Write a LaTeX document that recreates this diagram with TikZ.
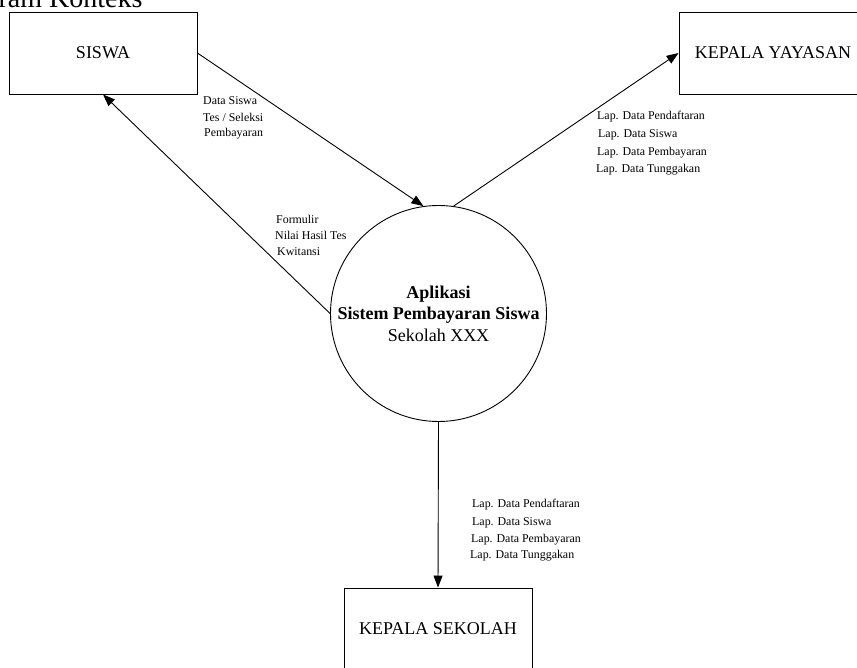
\documentclass[tikz,border=0pt]{standalone}
\usepackage{fontspec}
\setmainfont{Liberation Serif}
\usetikzlibrary{arrows.meta}
\tikzset{
  entity/.style={draw, line width=0.9pt, rectangle, minimum width=188pt, minimum height=82pt, inner sep=0pt, font=\fontsize{18}{21}\selectfont},
  proc/.style={draw, line width=0.9pt, circle, minimum size=216pt, inner sep=0pt, align=center, font=\fontsize{18}{21.5}\selectfont},
  flow/.style={line width=0.9pt, -{Triangle[length=12pt,width=9pt]}},
  lbl/.style={anchor=west, inner sep=0pt, font=\fontsize{11.9}{13}\selectfont}
}
\begin{document}
\begin{tikzpicture}[x=1pt,y=-1pt]
\useasboundingbox (0,0) rectangle (857,668);
\clip (0,0) rectangle (857,668);
\fill[white] (0,0) rectangle (857,668);
\node[anchor=base west, inner sep=0pt, font=\fontsize{28}{30}\selectfont] (title) at (-56,8) {Diagram Konteks};

\node[entity] (siswa) at (103,53) {SISWA};
\node[entity] (ky) at (773,53) {KEPALA YAYASAN};
\node[entity] (ks) at (438,629) {KEPALA SEKOLAH};
\node[proc] (p) at (438.5,313.5) {\textbf{Aplikasi}\\\textbf{Sistem Pembayaran Siswa}\\Sekolah XXX};

\draw[flow] (siswa.east) -- (p.98);
\draw[flow] (p.180) -- (siswa.south);
\draw[flow] (p.82) -- (ky.west);
\draw[flow] (p.south) -- (ks.north);

\node[lbl] (l1) at (203,101) {Data Siswa};
\node[lbl] (l2) at (203,117.5) {Tes / Seleksi};
\node[lbl] (l3) at (204,134) {Pembayaran};

\node[lbl] (f1) at (276,219) {Formulir};
\node[lbl] (f2) at (275,235.5) {Nilai Hasil Tes};
\node[lbl] (f3) at (277,252) {Kwitansi};

\node[lbl] (y1) at (597,117) {Lap. Data Pendaftaran};
\node[lbl] (y2) at (598,135) {Lap. Data Siswa};
\node[lbl] (y3) at (597,153) {Lap. Data Pembayaran};
\node[lbl] (y4) at (596,170) {Lap. Data Tunggakan};

\node[lbl] (s1) at (472,505) {Lap. Data Pendaftaran};
\node[lbl] (s2) at (472,523) {Lap. Data Siswa};
\node[lbl] (s3) at (471,540) {Lap. Data Pembayaran};
\node[lbl] (s4) at (470,556) {Lap. Data Tunggakan};
\end{tikzpicture}
\end{document}
